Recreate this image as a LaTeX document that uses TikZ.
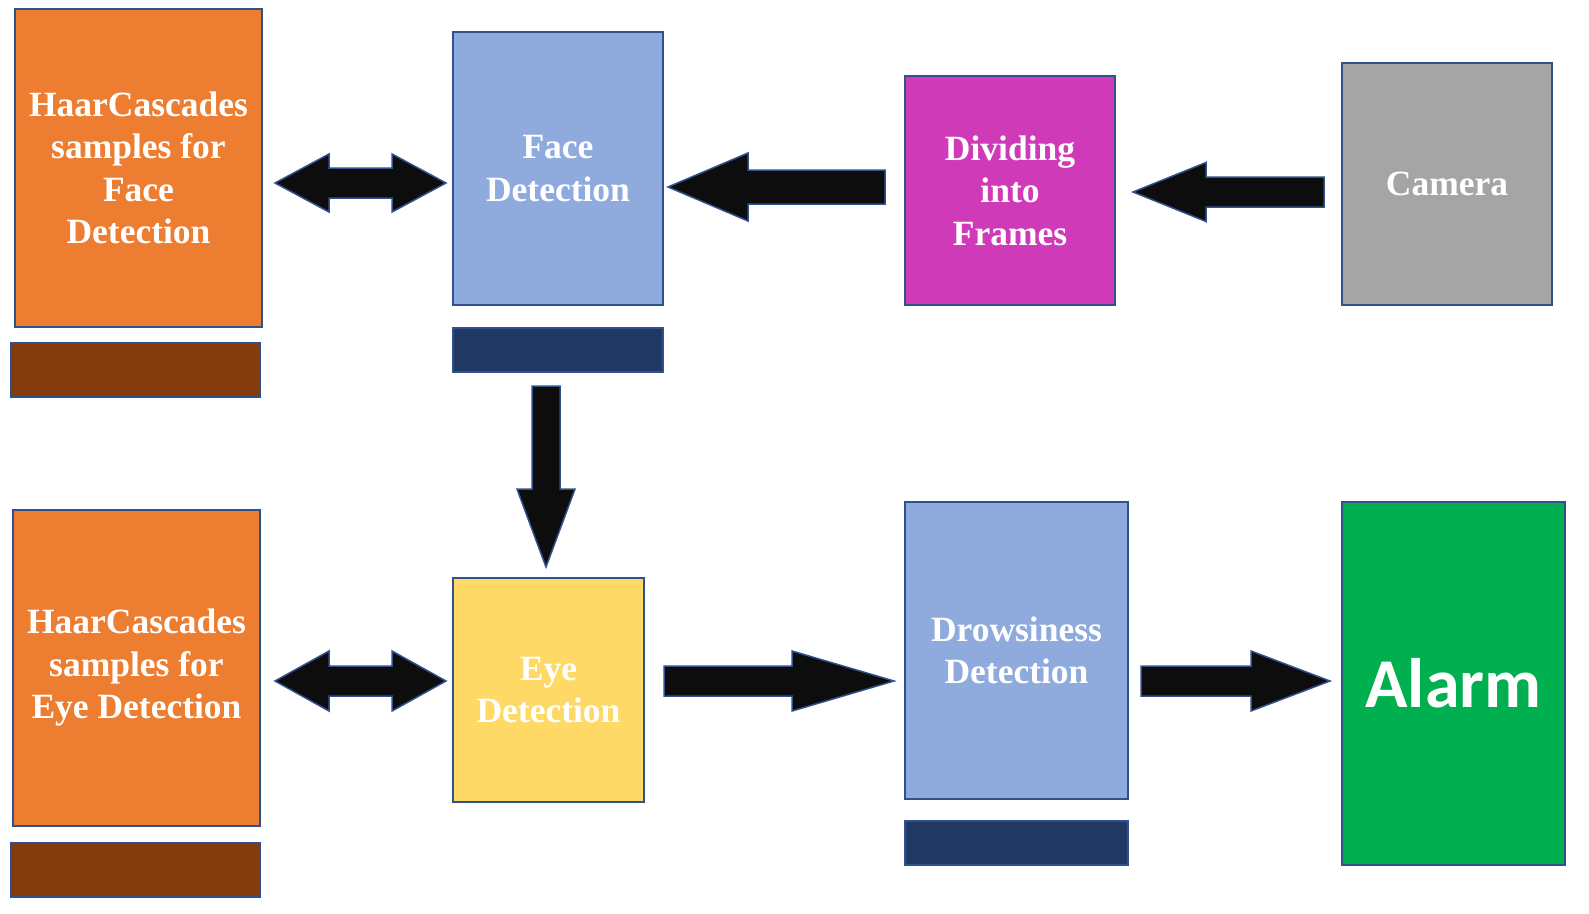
\documentclass[tikz,border=0pt]{standalone}
\usepackage{fontspec}
\setmainfont{Liberation Serif}
\newfontfamily\alarmfont{Carlito}
\usetikzlibrary{calc}
\definecolor{edge}{HTML}{2F528F}
\definecolor{orangebox}{HTML}{ED7D31}
\definecolor{brownbar}{HTML}{843C0C}
\definecolor{bluebox}{HTML}{8FAADC}
\definecolor{navybar}{HTML}{203864}
\definecolor{magentabox}{HTML}{CF3AB8}
\definecolor{graybox}{HTML}{A5A5A5}
\definecolor{yellowbox}{HTML}{FFD966}
\definecolor{greenbox}{HTML}{00B050}
\definecolor{arrowfill}{HTML}{0D0D0D}
\tikzset{
  box/.style={draw=edge, line width=2pt, inner sep=0pt, align=center,
    text=white, font=\bfseries\fontsize{35.5}{42.5}\selectfont},
  bar/.style={draw=edge, line width=2pt, inner sep=0pt},
  blockarr/.style={draw=edge, line width=1.5pt, fill=arrowfill, line join=miter},
}
% #1 tail, #2 tip, #3 shaft half width, #4 head half width, #5 head length
\newcommand\blockarrow[5]{%
  \coordinate (ba-n) at ($(#2)!#5!(#1)$);
  \path[blockarr] ($(#1)!#3!90:(#2)$) -- ($(ba-n)!#3!90:(#2)$) -- ($(ba-n)!#4!90:(#2)$)
    -- (#2) -- ($(ba-n)!#4!-90:(#2)$) -- ($(ba-n)!#3!-90:(#2)$) -- ($(#1)!#3!-90:(#2)$) -- cycle;
}
% #1 tip A, #2 tip B, #3 shaft half, #4 head half, #5 head length
\newcommand\doublearrow[5]{%
  \coordinate (da-n1) at ($(#1)!#5!(#2)$);
  \coordinate (da-n2) at ($(#2)!#5!(#1)$);
  \path[blockarr] (#1) -- ($(da-n1)!#4!90:(#2)$) -- ($(da-n1)!#3!90:(#2)$)
    -- ($(da-n2)!#3!-90:(#1)$) -- ($(da-n2)!#4!-90:(#1)$) -- (#2)
    -- ($(da-n2)!#4!90:(#1)$) -- ($(da-n2)!#3!90:(#1)$)
    -- ($(da-n1)!#3!-90:(#2)$) -- ($(da-n1)!#4!-90:(#2)$) -- cycle;
}
\begin{document}
\begin{tikzpicture}[x=1pt,y=-1pt]
\useasboundingbox[fill=white] (0,0) rectangle (1589,913);
% boxes
\node[box, fill=orangebox, minimum width=247pt, minimum height=318pt] (hf) at (138.5,168) {HaarCascades\\samples for\\Face\\Detection};
\node[bar, fill=brownbar, minimum width=249pt, minimum height=54pt] (hfbar) at (135.5,370) {};
\node[box, fill=bluebox, minimum width=210pt, minimum height=273pt] (fd) at (558,168.5) {Face\\Detection};
\node[bar, fill=navybar, minimum width=210pt, minimum height=44pt] (fdbar) at (558,350) {};
\node[box, fill=magentabox, minimum width=210pt, minimum height=229pt] (div) at (1010,190.5) {Dividing\\into\\Frames};
\node[box, fill=graybox, minimum width=210pt, minimum height=242pt] (cam) at (1447,184) {Camera};
\node[box, fill=orangebox, minimum width=247pt, minimum height=316pt] (he) at (136.5,668) {HaarCascades\\samples for\\Eye Detection};
\node[bar, fill=brownbar, minimum width=249pt, minimum height=54pt] (hebar) at (135.5,870) {};
\node[box, fill=yellowbox, minimum width=191pt, minimum height=224pt] (eye) at (548.5,690) {Eye\\Detection};
\node[box, fill=bluebox, minimum width=223pt, minimum height=297pt] (dr) at (1016.5,650.5) {Drowsiness\\Detection};
\node[bar, fill=navybar, minimum width=223pt, minimum height=44pt] (drbar) at (1016.5,843) {};
\node[box, fill=greenbox, minimum width=223pt, minimum height=363pt, font=\alarmfont\bfseries\fontsize{70}{80}\selectfont] (al) at (1453.5,683.5) {Alarm};
% arrow end points
\coordinate (a1l) at ($(hf.east |- 0,183)+(12,0)$);
\coordinate (a1r) at ($(fd.west |- 0,183)+(-6,0)$);
\coordinate (a2t) at ($(div.west |- 0,187)+(-19,0)$);
\coordinate (a2p) at ($(fd.east |- 0,187)+(4,0)$);
\coordinate (a3t) at ($(cam.west |- 0,192)+(-17,0)$);
\coordinate (a3p) at ($(div.east |- 0,192)+(17,0)$);
\coordinate (a4t) at ($(fdbar.south -| 546,0)+(0,13)$);
\coordinate (a4p) at ($(eye.north -| 546,0)+(0,-10)$);
\coordinate (a5l) at ($(he.east |- 0,681)+(14,0)$);
\coordinate (a5r) at ($(eye.west |- 0,681)+(-6,0)$);
\coordinate (a6t) at ($(eye.east |- 0,681)+(19,0)$);
\coordinate (a6p) at ($(dr.west |- 0,681)+(-10,0)$);
\coordinate (a7t) at ($(dr.east |- 0,681)+(12,0)$);
\coordinate (a7p) at ($(al.west |- 0,681)+(-11,0)$);
% arrows
\doublearrow{a1l}{a1r}{15pt}{29pt}{54pt}
\blockarrow{a2t}{a2p}{17pt}{34pt}{80pt}
\blockarrow{a3t}{a3p}{15pt}{29.5pt}{73pt}
\blockarrow{a4t}{a4p}{14pt}{29pt}{78pt}
\doublearrow{a5l}{a5r}{15pt}{30pt}{54pt}
\blockarrow{a6t}{a6p}{15pt}{30pt}{102pt}
\blockarrow{a7t}{a7p}{15pt}{30pt}{79pt}
\end{tikzpicture}
\end{document}
